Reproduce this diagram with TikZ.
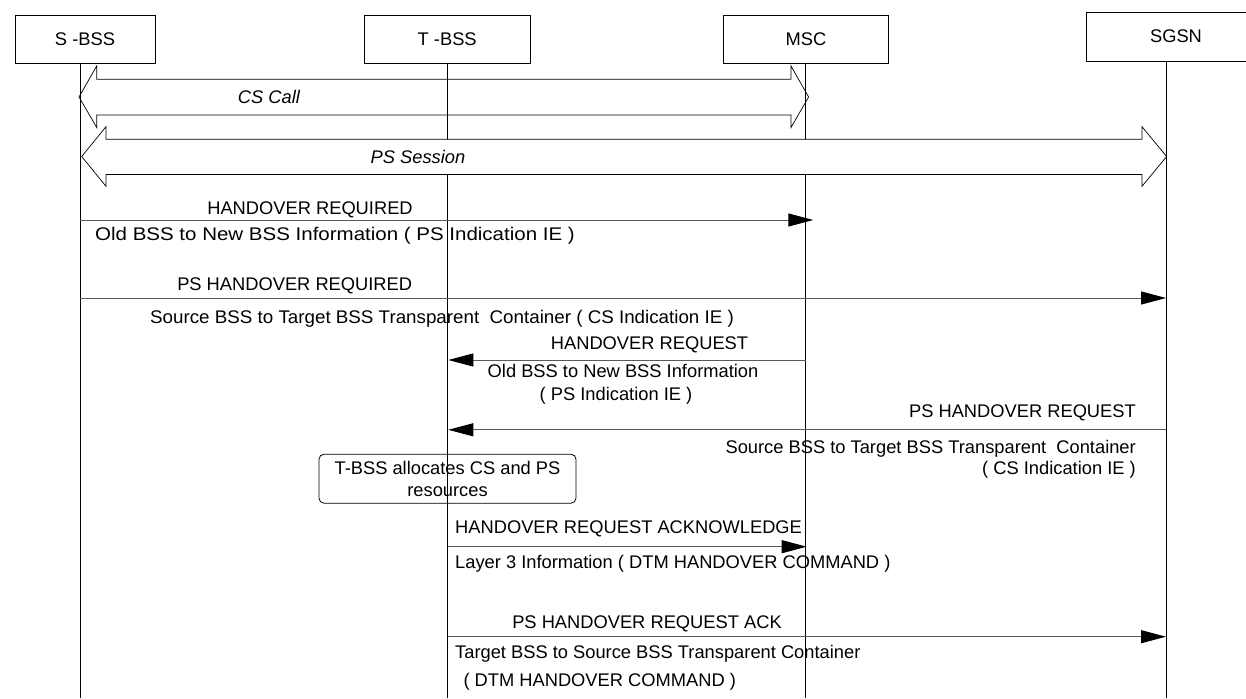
\documentclass[tikz,border=0pt]{standalone}
\usepackage{graphicx}
\usepackage{fontspec}
\setmainfont{Liberation Sans}
\usetikzlibrary{arrows.meta}
\begin{document}
\begin{tikzpicture}[x=1pt,y=-1pt,
  lab/.style={font=\fontsize{18.3}{21.7}\selectfont, inner sep=0pt},
  itl/.style={font=\fontsize{18.3}{21.7}\selectfont\itshape, inner sep=0pt},
  entity/.style={draw=black, line width=0.8pt, fill=white, lab, minimum height=48pt},
  life/.style={draw=black, line width=0.9pt},
  msg/.style={draw=black!65, line width=1pt, -{Triangle[length=25pt,width=13pt,color=black]}},
  blockarrow/.style={draw=black, line width=0.7pt, fill=white},
  note/.style={draw=black, line width=0.8pt, rounded corners=5pt, lab, align=center, minimum width=257pt, minimum height=49pt},
]
\useasboundingbox (0,0) rectangle (1246,698);
\clip (0,0) rectangle (1246,698);
\coordinate (bot) at (0,698);
\coordinate (sx) at (80,0);
\coordinate (tx) at (447.5,0);
\coordinate (mx) at (805.7,0);
\coordinate (gx) at (1166,0);

% entities
\node[entity, minimum width=140pt] (sbss) at (85,39) {S -BSS};
\node[entity, minimum width=166pt] (tbss) at (447.2,39) {T -BSS};
\node[entity, minimum width=165pt] (msc) at (806,39.5) {MSC};
\node[entity, minimum width=180pt, minimum height=49pt] (sgsn) at (1176,36.6) {SGSN};

% CS call block arrow (lifelines show through it)
\draw[blockarrow] (79,97) -- (96.7,66) -- (96.7,79.3) -- (791,79.3) -- (791,66) -- (808.6,97)
  -- (791,127.5) -- (791,115) -- (96.7,115) -- (96.7,127.5) -- cycle;

% lifelines
\draw[life] (sx |- sbss.south) -- (sx |- bot);
\draw[life] (tx |- tbss.south) -- (tx |- bot);
\draw[life] (mx |- msc.south) -- (mx |- bot);
\draw[life] (gx |- sgsn.south) -- (gx |- bot);

% PS session block arrow (covers lifelines)
\draw[blockarrow] (81.7,156.5) -- (106,126.7) -- (106,139.3) -- (1142,139.3) -- (1142,126.7) -- (1166.6,156.5)
  -- (1142,186.3) -- (1142,174.5) -- (106,174.5) -- (106,186.3) -- cycle;

\node[itl] (cscall) at (269,97) {CS Call};
\node[itl] (pssess) at (418,156.5) {PS Session};

% message 1
\coordinate (m1s) at (80,220);
\coordinate (m1e) at (813.3,220);
\draw[msg] (m1s) -- (m1e);
\node[lab, anchor=base] (l1a) at (310,214.2) {HANDOVER REQUIRED};
\node[lab, anchor=base west] (l1b) at (95,240.5) {\scalebox{1.12}[1]{Old BSS to New BSS Information ( PS Indication IE )}};

% message 2
\coordinate (m2s) at (80,298);
\coordinate (m2e) at (1166,298);
\draw[msg] (m2s) -- (m2e);
\node[lab, anchor=base] (l2a) at (294.7,290) {PS HANDOVER REQUIRED};
\node[lab, anchor=base west] (l2b) at (150,323.5) {\scalebox{1.026}[1]{Source BSS to Target BSS Transparent\ \ Container ( CS Indication IE )}};

% message 3
\coordinate (m3s) at (805.7,360);
\coordinate (m3e) at (448.3,360);
\draw[msg] (m3s) -- (m3e);
\node[lab, anchor=base] (l3a) at (649.5,349.3) {HANDOVER REQUEST};
\node[lab, anchor=base] (l3b) at (623,377.3) {Old BSS to New BSS Information};
\node[lab, anchor=base] (l3c) at (616,400.7) {( PS Indication IE )};

% message 4
\coordinate (m4s) at (1166,429.8);
\coordinate (m4e) at (448.3,429.8);
\draw[msg] (m4s) -- (m4e);
\node[lab, anchor=base east] (l4a) at (1136,417) {PS HANDOVER REQUEST};
\node[lab, anchor=base east] (l4b) at (1136,453.5) {Source BSS to Target BSS Transparent\ \ Container};
\node[lab, anchor=base east] (l4c) at (1136,474.5) {( CS Indication IE )};

% note
\node[note] (alloc) at (447.5,478.7) {T-BSS allocates CS and PS\\resources};

% message 5
\coordinate (m5s) at (447.5,546.7);
\coordinate (m5e) at (806.7,546.7);
\draw[msg] (m5s) -- (m5e);
\node[lab, anchor=base west] (l5a) at (455,533.3) {HANDOVER REQUEST ACKNOWLEDGE};
\node[lab, anchor=base west] (l5b) at (455,568.3) {Layer 3 Information ( DTM HANDOVER COMMAND )};

% message 6
\coordinate (m6s) at (447.5,636.7);
\coordinate (m6e) at (1166,636.7);
\draw[msg] (m6s) -- (m6e);
\node[lab, anchor=base] (l6a) at (647,628.3) {PS HANDOVER REQUEST ACK};
\node[lab, anchor=base west] (l6b) at (455,658.3) {Target BSS to Source BSS Transparent Container};
\node[lab, anchor=base west] (l6c) at (463.3,686.7) {( DTM HANDOVER COMMAND )};
\end{tikzpicture}
\end{document}
